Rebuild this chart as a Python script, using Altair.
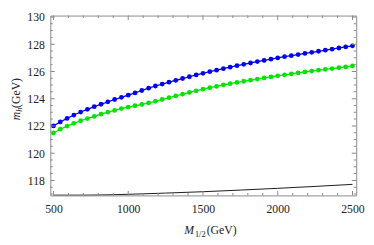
import altair as alt
import pandas as pd

# ---------------- data ----------------
m_half = [500, 545.5, 590.9, 636.4, 681.8, 727.3, 772.7, 818.2, 863.6, 909.1,
          954.5, 1000, 1045.5, 1090.9, 1136.4, 1181.8, 1227.3, 1272.7, 1318.2, 1363.6,
          1409.1, 1454.5, 1500, 1545.5, 1590.9, 1636.4, 1681.8, 1727.3, 1772.7, 1818.2,
          1863.6, 1909.1, 1954.5, 2000, 2045.5, 2090.9, 2136.4, 2181.8, 2227.3, 2272.7,
          2318.2, 2363.6, 2409.1, 2454.5, 2500]
mh_blue = [122.00, 122.29, 122.55, 122.80, 123.02, 123.22, 123.41, 123.59, 123.77, 123.94,
           124.10, 124.26, 124.42, 124.60, 124.77, 124.93, 125.07, 125.21, 125.35, 125.48,
           125.61, 125.74, 125.86, 125.98, 126.09, 126.20, 126.31, 126.42, 126.52, 126.62,
           126.72, 126.81, 126.90, 126.99, 127.08, 127.16, 127.24, 127.32, 127.40, 127.48,
           127.56, 127.63, 127.72, 127.80, 127.88]
mh_green = [121.48, 121.76, 121.99, 122.19, 122.38, 122.54, 122.70, 122.86, 123.01, 123.14,
            123.27, 123.38, 123.48, 123.58, 123.69, 123.81, 123.94, 124.07, 124.20, 124.33,
            124.46, 124.58, 124.70, 124.81, 124.91, 125.01, 125.10, 125.19, 125.28, 125.36,
            125.44, 125.52, 125.60, 125.68, 125.75, 125.82, 125.89, 125.96, 126.03, 126.09,
            126.15, 126.21, 126.27, 126.33, 126.40]
line_x = [500, 600, 700, 800, 900, 1000, 1250, 1500, 1750, 2000, 2250, 2500]
line_y = [116.92, 116.92, 116.92, 116.93, 116.95, 116.98, 117.07, 117.17, 117.29, 117.42, 117.56, 117.71]

x_major = [500, 1000, 1500, 2000, 2500]
x_minor = [600, 700, 800, 900, 1100, 1200, 1300, 1400, 1600, 1700, 1800, 1900,
           2100, 2200, 2300, 2400]
y_major = [118, 120, 122, 124, 126, 128, 130]
y_minor = [117, 117.5, 118.5, 119, 119.5, 120.5, 121, 121.5, 122.5, 123, 123.5,
           124.5, 125, 125.5, 126.5, 127, 127.5, 128.5, 129, 129.5]
series_names = ["blue", "green"]
series_colors = ["#0000ff", "#00e600"]

X_DOM = [479, 2525]
Y_DOM = [116.9, 130.1]

# ---------------- styling ----------------
FONT = "Liberation Serif"
FRAME = "#8a8a8a"
TXT = "#222222"

xs = alt.Scale(domain=X_DOM, nice=False, zero=False)
ys = alt.Scale(domain=Y_DOM, nice=False, zero=False)
xa = alt.Axis(values=x_major, ticks=False, domain=False, grid=False, title=None,
              labelFont=FONT, labelFontSize=12, labelColor=TXT, labelPadding=9,
              format="d")
ya = alt.Axis(values=y_major, ticks=False, domain=False, grid=False, title=None,
              labelFont=FONT, labelFontSize=12, labelColor=TXT, labelPadding=6,
              format="d")

df = pd.concat([
    pd.DataFrame({"x": m_half, "y": mh_blue, "s": series_names[0]}),
    pd.DataFrame({"x": m_half, "y": mh_green, "s": series_names[1]}),
])
df_line = pd.DataFrame({"x": line_x, "y": line_y})

color = alt.Color("s:N", scale=alt.Scale(domain=series_names, range=series_colors), legend=None)

base = alt.Chart(df).encode(
    x=alt.X("x:Q", scale=xs, axis=xa),
    y=alt.Y("y:Q", scale=ys, axis=ya),
    color=color,
)
lines = base.mark_line(strokeWidth=1.3)
dots = base.mark_circle(size=24, opacity=1)

black = alt.Chart(df_line).mark_line(color="#1a1a1a", strokeWidth=1, clip=True).encode(
    x=alt.X("x:Q", scale=xs, axis=xa),
    y=alt.Y("y:Q", scale=ys, axis=ya),
)


def xticks(vals, length, ypos):
    return alt.Chart(pd.DataFrame({"v": vals})).mark_tick(
        orient="vertical", size=2 * length, thickness=1, color=FRAME, clip=True, opacity=1
    ).encode(
        x=alt.X("v:Q", scale=xs, axis=xa),
        y=alt.YDatum(ypos, type="quantitative", scale=ys, axis=ya),
    )


def yticks(vals, length, xpos):
    return alt.Chart(pd.DataFrame({"v": vals})).mark_tick(
        orient="horizontal", size=2 * length, thickness=1, color=FRAME, clip=True, opacity=1
    ).encode(
        y=alt.Y("v:Q", scale=ys, axis=ya),
        x=alt.XDatum(xpos, type="quantitative", scale=xs, axis=xa),
    )


tick_layers = [
    xticks(x_major, 4.5, Y_DOM[0]), xticks(x_major, 4.5, Y_DOM[1]),
    xticks(x_minor, 2.5, Y_DOM[0]), xticks(x_minor, 2.5, Y_DOM[1]),
    yticks(y_major, 4.5, X_DOM[0]), yticks(y_major, 4.5, X_DOM[1]),
    yticks(y_minor, 2.5, X_DOM[0]), yticks(y_minor, 2.5, X_DOM[1]),
]


def label(text, x, y, size=12, italic=False, angle=0):
    kw = dict(font=FONT, fontSize=size, color=TXT, align="left", baseline="alphabetic")
    if italic:
        kw["fontStyle"] = "italic"
    if angle:
        kw["angle"] = angle
    return alt.Chart(pd.DataFrame({"t": [text]})).mark_text(**kw).encode(
        x=alt.value(x), y=alt.value(y), text="t:N"
    )


# axis titles (plot-relative pixel positions)
titles = [
    label("M", 137, 224, 12, italic=True),
    label("1/2", 148, 227, 8.5, italic=False),
    label("(GeV)", 160, 224, 12),
    label("m", -31, 107, 12, italic=True, angle=270),
    label("h", -28.5, 98.5, 8.5, italic=True, angle=270),
    label("(GeV)", -31, 94.5, 12, angle=270),
]

chart = alt.layer(black, lines, dots, *tick_layers, *titles).properties(
    width=313, height=184,
    autosize=alt.AutoSizeParams(type="none"),
    padding={"left": 43.3, "top": 5, "right": 10, "bottom": 48},
).configure_view(
    stroke=FRAME, strokeWidth=1
).configure_axis(
    labelFont=FONT
).configure_text(font=FONT)

chart.save("out.html", embed_options={"renderer": "svg", "actions": False})
